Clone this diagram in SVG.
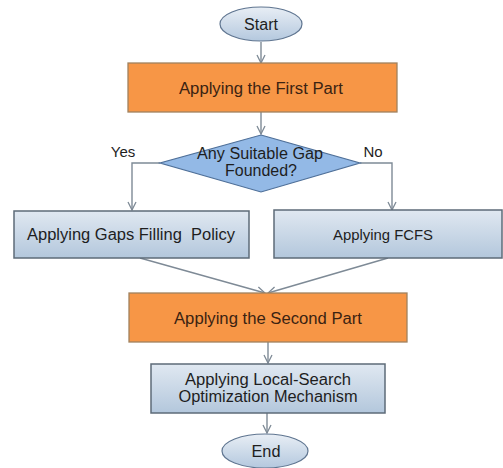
<svg xmlns="http://www.w3.org/2000/svg" width="503" height="468" viewBox="0 0 503 468">
<style>
text{font-family:"Liberation Sans",Arial,sans-serif;font-size:16px;fill:#1e1e1e;text-anchor:middle;white-space:pre}
.orange{fill:#f79646;stroke:#a0825f;stroke-width:1.3}
.blue{fill:url(#gb);stroke:#5d6b78;stroke-width:1.5}
.oval{fill:url(#go);stroke:#5f7590;stroke-width:1.2}
.dia{fill:#93b9e6;stroke:#4e6f98;stroke-width:1.2}
.ot{fill:#3b2312}
.con{fill:none;stroke:#7e8a96;stroke-width:1.4;marker-end:url(#ah)}
.lbl{font-size:15px}
</style>
<defs>
<linearGradient id="gb" x1="0" y1="0" x2="0" y2="1">
<stop offset="0" stop-color="#e0e8f1"/>
<stop offset="1" stop-color="#b3c7dc"/>
</linearGradient>
<linearGradient id="go" x1="0" y1="0" x2="0" y2="1">
<stop offset="0" stop-color="#e8eef5"/>
<stop offset="1" stop-color="#b4c8de"/>
</linearGradient>
<marker id="ah" viewBox="0 0 10 10" refX="9" refY="5" markerWidth="10" markerHeight="10" markerUnits="userSpaceOnUse" orient="auto">
<path d="M1,1 L9,5 L1,9" fill="none" stroke="#7e8a96" stroke-width="1.3"/>
</marker>
</defs>
<g id="connectors">
<path class="con" d="M261,42 L261,63"/>
<path class="con" d="M261,112 L261,134"/>
<path class="con" d="M160,163 L132,163 L132,210"/>
<path class="con" d="M360,163 L392,163 L392,210"/>
<path class="con" d="M140,258 L265,293"/>
<path class="con" d="M388,258 L268,293"/>
<path class="con" d="M268,342 L268,363"/>
<path class="con" d="M267,413 L267,433"/>
</g>
<g id="start">
<ellipse class="oval" cx="261" cy="24" rx="41" ry="17"/>
<text x="261" y="30" textLength="34" lengthAdjust="spacingAndGlyphs">Start</text>
</g>
<g id="first-part">
<rect class="orange" x="128" y="63" width="269" height="49"/>
<text class="ot" x="261" y="94" textLength="164" lengthAdjust="spacingAndGlyphs">Applying the First Part</text>
</g>
<g id="decision">
<polygon class="dia" points="261,135 360,163 261,192 160,163"/>
<text x="260" y="159" textLength="126" lengthAdjust="spacingAndGlyphs">Any Suitable Gap</text>
<text x="261" y="176" textLength="72" lengthAdjust="spacingAndGlyphs">Founded?</text>
</g>
<g id="yes-label"><text class="lbl" x="123" y="157">Yes</text></g>
<g id="no-label"><text class="lbl" x="373" y="157">No</text></g>
<g id="gaps">
<rect class="blue" x="14" y="211" width="235" height="47"/>
<text x="131" y="240" textLength="208" lengthAdjust="spacingAndGlyphs" xml:space="preserve">Applying Gaps Filling  Policy</text>
</g>
<g id="fcfs">
<rect class="blue" x="274" y="210" width="228" height="48"/>
<text x="383" y="240" style="font-size:15px" textLength="100" lengthAdjust="spacingAndGlyphs">Applying FCFS</text>
</g>
<g id="second-part">
<rect class="orange" x="129" y="293" width="278" height="49"/>
<text class="ot" x="268" y="324" textLength="188" lengthAdjust="spacingAndGlyphs">Applying the Second Part</text>
</g>
<g id="local-search">
<rect class="blue" x="151" y="364" width="234" height="49"/>
<text x="268" y="385" textLength="166" lengthAdjust="spacingAndGlyphs">Applying Local-Search</text>
<text x="268" y="402" textLength="179" lengthAdjust="spacingAndGlyphs">Optimization Mechanism</text>
</g>
<g id="end">
<ellipse class="oval" cx="265" cy="451" rx="43" ry="17"/>
<text x="266" y="457" textLength="29" lengthAdjust="spacingAndGlyphs">End</text>
</g>
</svg>
